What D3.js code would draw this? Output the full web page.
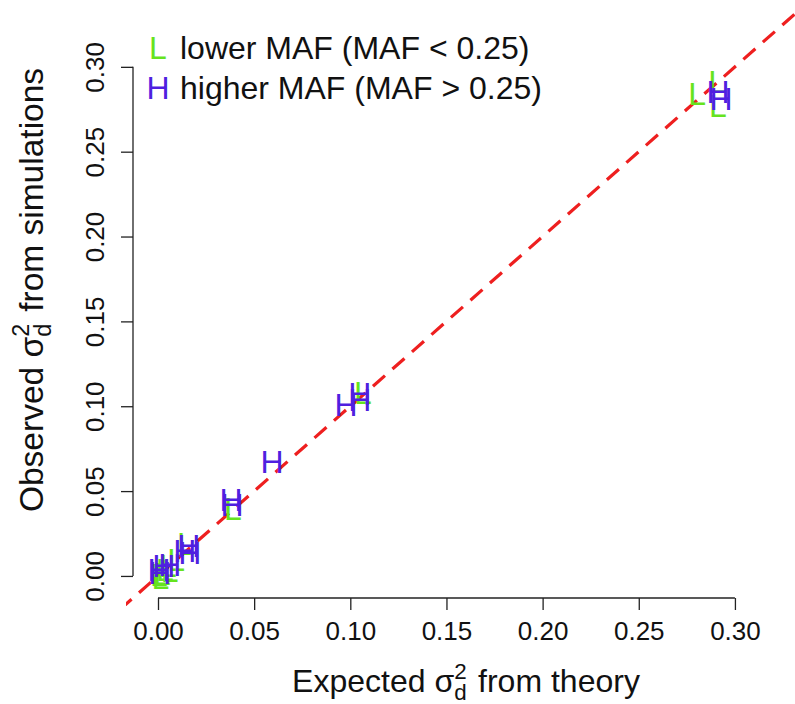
<!DOCTYPE html>
<html><head><meta charset="utf-8">
<script src="https://cdn.jsdelivr.net/npm/d3@7"></script>
<style>body{margin:0;background:#fff}text{font-family:"Liberation Sans",Arial,sans-serif;fill:#111}</style>
</head><body><svg id="c" width="795" height="704"></svg>
<script>
// ---- data ----
const lowerX = [0.2803, 0.2907, 0.2912, 0.1066, 0.0390, 0.0145, 0.0094, 0.0052, 0.0036, 0.0020, 0.0005, 0.0060, 0.0012];
const lowerY = [0.2840, 0.2911, 0.2770, 0.1078, 0.0395, 0.0190, 0.0094, 0.0059, 0.0035, 0.0015, 0.0006, 0.0030, -0.0010];
const higherX = [0.2912, 0.2928, 0.0978, 0.1050, 0.1050, 0.0593, 0.0380, 0.0385, 0.0160, 0.0165, 0.0140, 0.0062, 0.0030, 0.0010, 0.0005];
const higherY = [0.2852, 0.2811, 0.1008, 0.1072, 0.1037, 0.0675, 0.0448, 0.0418, 0.0180, 0.0135, 0.0147, 0.0065, 0.0060, 0.0020, 0.0040];
const xTicks = [0, 0.05, 0.10, 0.15, 0.20, 0.25, 0.30];
const yTicks = [0, 0.05, 0.10, 0.15, 0.20, 0.25, 0.30];
const legendSymbols = ["L", "H"];
const legendLabels = ["lower MAF (MAF < 0.25)", "higher MAF (MAF > 0.25)"];
const colors = ["#66e31e", "#4f1fe0"];

// ---- layout ----
const svg = d3.select("#c");
const usr = [-0.013, 0.3055];
const x = d3.scaleLinear().domain(usr).range([133, 745.5]);
const y = d3.scaleLinear().domain(usr).range([598, 57.5]);
const tickFont = 26, labFont = 32, ylabFont = 33.5, ptFont = 32;

// reference line y = x
svg.append("clipPath").attr("id","clip").append("rect")
  .attr("x",126).attr("y",0).attr("width",795-126).attr("height",606);
svg.append("line")
  .attr("clip-path","url(#clip)")
  .attr("x1",x(-0.02)).attr("y1",y(-0.02)).attr("x2",x(0.4)).attr("y2",y(0.4))
  .attr("stroke","#ee1f1f").attr("stroke-width",3.2).attr("stroke-dasharray","16,10");

// x axis
const gx = svg.append("g").attr("transform","translate(0,598)")
  .call(d3.axisBottom(x).tickValues(xTicks).tickSize(12).tickPadding(12).tickFormat(d3.format(".2f")));
gx.select(".domain").remove();
gx.append("line").attr("x1",x(xTicks[0])).attr("x2",x(xTicks[xTicks.length-1]))
  .attr("stroke","#222").attr("stroke-width",1.3);
gx.selectAll(".tick line").attr("stroke","#222").attr("stroke-width",1.3);
gx.selectAll(".tick text").attr("font-size",tickFont).attr("fill","#111")
  .style("font-family","'Liberation Sans',Arial,sans-serif").attr("dy","0.71em");

// y axis
const gy = svg.append("g").attr("transform","translate(133,0)")
  .call(d3.axisLeft(y).tickValues(yTicks).tickSize(12).tickFormat(d3.format(".2f")));
gy.select(".domain").remove();
gy.append("line").attr("y1",y(yTicks[0])).attr("y2",y(yTicks[yTicks.length-1]))
  .attr("stroke","#222").attr("stroke-width",1.3);
gy.selectAll(".tick line").attr("stroke","#222").attr("stroke-width",1.3);
gy.selectAll(".tick text").attr("font-size",tickFont).attr("fill","#111")
  .style("font-family","'Liberation Sans',Arial,sans-serif")
  .attr("transform","rotate(-90)").attr("text-anchor","middle")
  .attr("x",0).attr("y",-29).attr("dy",0);

// axis titles
function title(sel, pre, post, fs){
  sel.append("tspan").text(pre);
  sel.append("tspan").text("σ");
  sel.append("tspan").attr("font-size",fs*0.7).attr("dy",-fs*0.42).text("2");
  sel.append("tspan").attr("font-size",fs*0.7).attr("dx",-fs*0.7*0.556).attr("dy",fs*0.66).text("d");
  sel.append("tspan").attr("dy",-fs*0.24).attr("dx",fs*0.08).text(post);
}
const xt = svg.append("text").attr("x",466).attr("y",692).attr("text-anchor","middle").attr("font-size",labFont);
title(xt, "Expected ", " from theory", labFont);
const yt = svg.append("text").attr("transform","translate(43,290) rotate(-90)").attr("text-anchor","middle").attr("font-size",ylabFont);
title(yt, "Observed ", " from simulations", ylabFont);

// points
function pts(xs, ys, sym, col){
  svg.append("g").selectAll("text").data(xs.map((v,i)=>[v,ys[i]])).join("text")
    .attr("x",d=>x(d[0])).attr("y",d=>y(d[1])).attr("dy","0.358em")
    .attr("text-anchor","middle").attr("font-size",ptFont).style("fill",col).text(sym);
}
pts(lowerX, lowerY, legendSymbols[0], colors[0]);
pts(higherX, higherY, legendSymbols[1], colors[1]);

// legend
const lg = svg.append("g").selectAll("g").data(legendLabels).join("g")
  .attr("transform",(d,i)=>`translate(0,${48+i*40})`);
lg.append("text").attr("x",158).attr("dy","0.358em").attr("text-anchor","middle")
  .attr("font-size",ptFont).style("fill",(d,i)=>colors[i]).text((d,i)=>legendSymbols[i]);
lg.append("text").attr("x",180).attr("dy","0.358em").attr("font-size",labFont).text(d=>d);
</script></body></html>
